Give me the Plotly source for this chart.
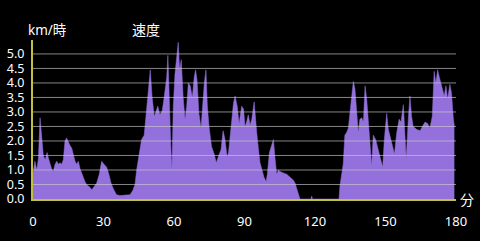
import plotly.graph_objects as go

minutes = [0, 0.8, 1.6, 2.3, 3.0, 3.6, 4.4, 5.2, 6.0, 6.6, 7.2, 7.9, 8.6, 9.4, 10.1, 10.8, 11.5, 12.2, 12.9,
           13.6, 14.3, 15.0, 15.7, 16.5, 17.2, 17.9, 18.6, 19.3, 20.0, 20.7, 21.4, 22.1, 22.8, 24.3, 25.0, 25.8,
           27.1, 28.2, 29.2, 30.2, 31.3, 32.3, 33.2, 34.2, 35.5, 37, 39, 41.3, 42.5, 43.4, 44.1, 44.8, 45.5,
           46.2, 47.3, 48.4, 49.2, 49.9, 50.7, 51.6, 52.3, 53.1, 54.0, 55.0, 55.8, 56.9, 57.4, 58.0, 58.7,
           59.1, 59.7, 60.4, 61.3, 61.8, 62.4, 63.1, 63.9, 64.7, 65.4, 66.1, 66.9, 67.8, 68.6, 69.2, 69.8,
           70.6, 71.5, 72.2, 72.9, 73.6, 74.2, 74.9, 76.0, 77.1, 78.0, 78.8, 80.0, 80.9, 81.7, 82.6, 83.2,
           84.3, 85.3, 86.0, 86.9, 87.7, 88.5, 88.8, 89.6, 90.2, 90.9, 91.6, 92.4, 93.1, 94.1, 94.7, 95.2,
           95.9, 96.6, 97.3, 98.3, 99.2, 99.7, 100.6, 101.4, 102.3, 103.0, 103.7, 104.4, 105.1, 106.5, 108.0,
           109.4, 110.8, 111.5, 112.2, 112.9, 113.6, 118.3, 118.6, 118.9, 130.2, 130.6, 131.3, 132.0, 132.7,
           133.5, 134.2, 134.9, 135.6, 136.3, 137.0, 137.7, 138.4, 139.1, 139.9, 140.6, 141.3, 142.0, 142.7,
           143.4, 144.1, 144.8, 145.8, 146.9, 148.1, 148.8, 149.5, 150.5, 151.2, 151.9, 152.9, 153.8, 154.8,
           155.8, 156.6, 157.6, 158.3, 158.8, 159.7, 160.4, 161.1, 161.8, 163.2, 164.7, 165.7, 166.8, 167.9,
           168.9, 169.9, 170.3, 170.7, 171.4, 172.2, 172.9, 173.9, 175.0, 175.7, 176.4, 177.4, 178.1, 178.8,
           179.3]

speed = [0.9, 1.3, 1.0, 1.4, 2.8, 2.2, 1.5, 1.35, 1.6, 1.4, 1.2, 1.05, 0.95, 1.2, 1.3, 1.2, 1.25, 1.2, 1.35,
         2.0, 2.1, 1.95, 1.85, 1.75, 1.55, 1.3, 1.2, 1.3, 1.05, 0.9, 0.7, 0.6, 0.5, 0.4, 0.32, 0.4,
         0.55, 0.85, 1.3, 1.2, 1.1, 0.85, 0.55, 0.35, 0.15, 0.12, 0.13, 0.15, 0.3, 0.5, 1.0, 1.4, 1.75,
         2.05, 2.2, 3.2, 3.8, 4.45, 3.5, 2.85, 3.0, 3.2, 2.9, 3.05, 3.5, 4.2, 4.95, 3.2, 1.7,
         1.0, 3.2, 4.3, 5.0, 5.4, 4.45, 4.8, 3.5, 2.75, 3.2, 4.0, 3.9, 3.5, 4.2, 4.45, 4.1,
         2.95, 2.45, 3.4, 4.0, 4.45, 3.2, 2.5, 1.8, 1.55, 1.25, 1.45, 1.7, 2.35, 2.05, 1.45, 1.6,
         2.5, 3.3, 3.55, 3.2, 2.6, 3.05, 3.2, 3.1, 2.5, 2.65, 2.9, 2.55, 2.75, 3.35, 2.9, 2.3,
         1.75, 1.25, 1.05, 0.75, 0.6, 0.85, 1.6, 1.85, 2.05, 1.4, 0.85, 1.0, 0.95, 0.9, 0.85,
         0.75, 0.65, 0.55, 0.35, 0.15, 0, 0, 0.1, 0, 0, 0.45, 0.9, 1.2, 2.2,
         2.3, 2.45, 2.95, 3.45, 4.05, 3.8, 3.0, 2.3, 2.75, 2.8, 2.65, 3.9, 3.45, 2.6,
         2.05, 1.15, 2.2, 2.05, 1.7, 1.25, 1.1, 2.05, 2.95, 2.4, 2.2, 1.85, 1.55, 2.3,
         2.75, 2.65, 3.25, 2.3, 1.4, 2.75, 3.55, 2.85, 2.5, 2.4, 2.35, 2.5, 2.65, 2.6,
         2.45, 2.85, 4.1, 4.4, 4.0, 4.45, 4.2, 3.9, 3.55, 3.9, 3.45, 3.95, 3.65, 2.85,
         2.5]

x_ticks = [0, 30, 60, 90, 120, 150, 180]
y_ticks = [0.0, 0.5, 1.0, 1.5, 2.0, 2.5, 3.0, 3.5, 4.0, 4.5, 5.0]
y_labels = [f"{v:.1f}" for v in y_ticks]

FONT = "Noto Sans, Noto Sans CJK JP, sans-serif"
AXIS_COLOR = "#c2c040"

fig = go.Figure()
fig.add_trace(go.Scatter(
    x=minutes, y=speed, mode="lines", fill="tozeroy",
    line=dict(color="#9370DB", width=0.5), fillcolor="#9370DB",
    hoverinfo="skip", showlegend=False,
))

shapes = [dict(type="line", xref="paper", x0=0, x1=1, yref="y", y0=v, y1=v,
               line=dict(color="rgba(205,205,205,0.65)", width=1), layer="above")
          for v in y_ticks[1:]]

fig.update_layout(
    width=480, height=241,
    margin=dict(l=33, r=24, t=40, b=42, autoexpand=False),
    paper_bgcolor="black", plot_bgcolor="black",
    font=dict(family=FONT, color="white", size=13),
    shapes=shapes,
    xaxis=dict(range=[0, 180], tickvals=x_ticks, ticktext=[str(t) for t in x_ticks],
               showgrid=False, zeroline=False, showline=True, linecolor=AXIS_COLOR, linewidth=2,
               ticks="outside", ticklen=9, tickcolor="black", tickfont=dict(size=13),
               automargin=False),
    yaxis=dict(range=[0, 5.48], tickvals=y_ticks, ticktext=y_labels,
               showgrid=False, zeroline=False, showline=True, linecolor=AXIS_COLOR, linewidth=2,
               ticks="outside", ticklen=4, tickcolor="black", tickfont=dict(size=12.5),
               automargin=False),
    annotations=[
        dict(text="km/時", xref="paper", yref="paper", x=0.034, y=1.063,
             xanchor="center", yanchor="middle", showarrow=False, font=dict(size=13.5)),
        dict(text="速度", xref="paper", yref="paper", x=0.268, y=1.063,
             xanchor="center", yanchor="middle", showarrow=False, font=dict(size=14)),
        dict(text="分", xref="paper", yref="paper", x=1.026, y=-0.006,
             xanchor="center", yanchor="middle", showarrow=False, font=dict(size=14)),
    ],
)

fig.write_html("out.html")
